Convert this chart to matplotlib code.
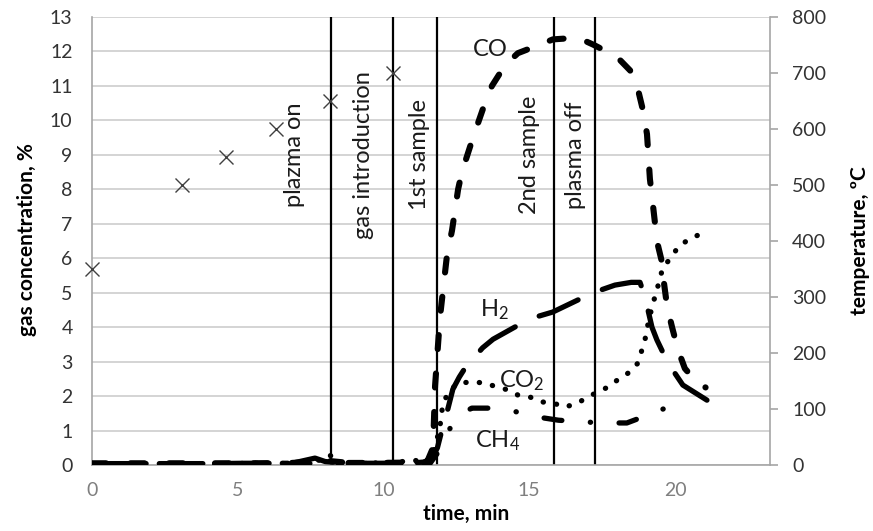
"""
Gas concentration and temperature during a plasma run.
"""

import numpy as np
import matplotlib
matplotlib.use("Agg")
import matplotlib.pyplot as plt

nan = np.nan

#####################################
# Data
#####################################

# temperature readings (right axis)
temp_t = [0.0, 3.08, 4.59, 6.31, 8.16, 10.33]
temp_c = [350, 500, 550, 600, 650, 700]

# event markers
event_t = [8.19, 10.32, 11.82, 15.85, 17.26]
event_labels = ["plazma on", "gas introduction", "1st sample", "2nd sample", "plasma off"]
event_label_t = [6.95, 9.3, 11.22, 15.0, 16.6]

# gas concentrations, % (left axis)
co_t = [0.0, 1.0, 2.0, 3.0, 3.95, nan, 4.22, 5.5, 6.72, nan, 6.86, 7.6, 8.1, 8.58, nan,
        8.8, 9.8, 10.8, 11.5, 11.7, 11.77, 11.94, 12.18, 12.35, 12.56, 12.69, 13.07,
        13.48, 13.72, 14.17, 14.61, 15.37, 15.81, 16.67, 17.19, 18.0, 18.46, 18.73,
        18.9, 19.04, 19.14, 19.21, 19.31, 19.38, 19.55, 19.62, 19.73, 19.9, 20.1,
        20.34, 20.7, 21.05]
co_y = [0.05, 0.05, 0.05, 0.05, 0.05, nan, 0.05, 0.05, 0.06, nan, 0.06, 0.1, 0.12, 0.08, nan,
        0.06, 0.06, 0.07, 0.1, 0.5, 2.3, 4.3, 6.1, 6.8, 8.0, 8.5, 9.5,
        10.5, 11.0, 11.6, 11.95, 12.2, 12.35, 12.4, 12.2, 11.85, 11.45, 10.9,
        10.3, 9.6, 8.3, 7.8, 7.05, 6.5, 5.9, 5.3, 4.6, 4.0, 3.35,
        2.8, 2.45, 2.25]

h2_t = [0.0, 1.2, 2.3, 3.4, 3.95, nan, 4.22, 5.2, 6.72, nan, 6.86, 7.65, 8.0, 8.58, nan,
        8.8, 9.9, 11.0, 11.6, 11.85, 12.0, 12.2, 12.38, 12.6, 12.9, 13.14, 13.4,
        13.76, 14.5, 15.13, 15.81, 16.5, 17.19, 17.94, 18.5, 18.8, 18.97, 19.21,
        19.38, 19.76, 20.27, 21.1]
h2_y = [0.04, 0.04, 0.04, 0.04, 0.04, nan, 0.04, 0.05, 0.05, nan, 0.05, 0.2, 0.1, 0.06, nan,
        0.05, 0.05, 0.06, 0.1, 0.5, 1.0, 1.6, 2.2, 2.55, 2.95, 3.15, 3.4,
        3.65, 4.0, 4.27, 4.44, 4.72, 5.0, 5.22, 5.3, 5.3, 4.88, 4.0,
        3.63, 2.96, 2.32, 1.88]

co2_t = [0.0, 1.5, 3.0, 3.95, nan, 4.22, 6.0, 6.72, nan, 6.86, 7.9, 8.12, 8.4, 8.58, nan,
         8.8, 10.0, 11.3, 11.6, 11.8, 11.95, 12.04, 12.3, 12.62, 13.03, 13.48, 13.9,
         14.27, 14.61, 15.03, 15.44, 15.81, 16.23, 16.67, 17.0, 17.36, 17.77, 18.1,
         18.46, 18.73, 18.97, 19.1, 19.25, 19.38, 19.59, 19.9, 20.1, 20.45, 20.79]
co2_y = [0.04, 0.04, 0.04, 0.04, nan, 0.04, 0.05, 0.05, nan, 0.05, 0.15, 0.29, 0.2, 0.06, nan,
         0.05, 0.06, 0.14, 0.1, 0.6, 1.2, 1.8, 2.2, 2.38, 2.41, 2.38, 2.26,
         2.18, 2.03, 1.97, 1.83, 1.8, 1.68, 1.8, 1.97, 2.12, 2.29, 2.52,
         2.7, 2.96, 3.63, 4.2, 4.7, 5.08, 5.75, 6.04, 6.33, 6.53, 6.67]

ch4_t = [0.0, 2.0, 3.95, nan, 4.22, 6.72, nan, 6.86, 8.0, 8.58, nan, 8.8, 10.5, 11.6,
         11.9, 12.1, 12.38, 12.7, 13.03, 13.76, 14.58, 15.3, 16.0, 16.85, 17.6,
         18.35, 19.07, 19.76, 20.5]
ch4_y = [0.03, 0.03, 0.03, nan, 0.03, 0.04, nan, 0.04, 0.05, 0.04, nan, 0.04, 0.05, 0.05,
         0.4, 0.8, 1.2, 1.5, 1.65, 1.65, 1.54, 1.39, 1.3, 1.25, 1.22,
         1.22, 1.45, 1.68, 1.65]

gas_names = ["CO", "H$_2$", "CO$_2$", "CH$_4$"]
gas_label_xy = [(13.65, 12.05), (13.8, 4.5), (14.75, 2.45), (13.9, 0.7)]

#####################################
# Plot
#####################################

plt.rcParams["font.family"] = ["Lato", "DejaVu Sans"]
plt.rcParams["mathtext.default"] = "regular"

fig = plt.figure(figsize=(8.73, 5.31), dpi=100)
fig.patch.set_facecolor("white")
ax = fig.add_axes([92 / 873, 1 - 465 / 531, 678 / 873, 448 / 531])
ax2 = ax.twinx()

ax.set_xlim(0, 23.26)
ax.set_ylim(0, 13)
ax2.set_ylim(0, 800)

# gas curves
line_kw = dict(color="black", dash_capstyle="round", solid_capstyle="round")
ax.plot(co_t, co_y, lw=4.4, linestyle=(0, (2.3, 4.0)), zorder=3, **line_kw)
ax.plot(h2_t, h2_y, lw=3.8, linestyle=(0, (8.0, 5.0)), zorder=3, **line_kw)
ax.plot(co2_t, co2_y, lw=3.8, linestyle=(0, (0.05, 2.5)), zorder=3, **line_kw)
ax.plot(ch4_t, ch4_y, lw=3.8, linestyle=(0, (3.4, 5.4, 0.05, 5.4)), zorder=3, **line_kw)

for name, (lx, ly) in zip(gas_names, gas_label_xy):
    ax.text(lx, ly, name, fontsize=17, color="#1a1a1a", ha="center", va="center", zorder=4)

# events
for et, lbl, lt in zip(event_t, event_labels, event_label_t):
    ax.axvline(et, color="black", lw=1.6, zorder=2)
    ax.text(lt, 9.0, lbl, rotation=90, fontsize=17, color="#1a1a1a",
            ha="center", va="center", zorder=4)

# temperature
ax2.plot(temp_t, temp_c, linestyle="none", marker="x", markersize=10,
         markeredgewidth=1.0, color="#404040", clip_on=False, zorder=5)

# axes styling
ax.set_yticks(range(0, 14))
ax.set_xticks([0, 5, 10, 15, 20])
ax2.set_yticks(range(0, 801, 100))
ax.yaxis.grid(True, color="#d4d4d4", lw=1.4)
ax.set_axisbelow(True)

ax.spines["top"].set_visible(False)
ax2.spines["top"].set_visible(False)
for sp in [ax.spines["left"], ax.spines["bottom"], ax2.spines["right"]]:
    sp.set_color("#a6a6a6")
    sp.set_linewidth(1.2)
ax2.spines["left"].set_visible(False)
ax2.spines["bottom"].set_visible(False)
ax.spines["right"].set_visible(False)

ax.tick_params(axis="y", length=0, pad=14, labelsize=14, labelcolor="#333333")
ax.tick_params(axis="x", length=0, pad=12, labelsize=14, labelcolor="#7f7f7f")
ax2.tick_params(axis="y", length=6, width=1.2, color="#a6a6a6", pad=10,
                labelsize=14, labelcolor="#333333")

fig.text(27 / 873, 1 - 240 / 531, "gas concentration, %", rotation=90, fontsize=15,
         fontweight="bold", ha="center", va="center")
fig.text(860 / 873, 1 - 241 / 531, "temperature, ºC", rotation=90, fontsize=15,
         fontweight="bold", ha="center", va="center")
fig.text(466 / 873, 1 - 514 / 531, "time, min", fontsize=15, fontweight="bold",
         ha="center", va="center")

fig.savefig("out.png", dpi=100)
